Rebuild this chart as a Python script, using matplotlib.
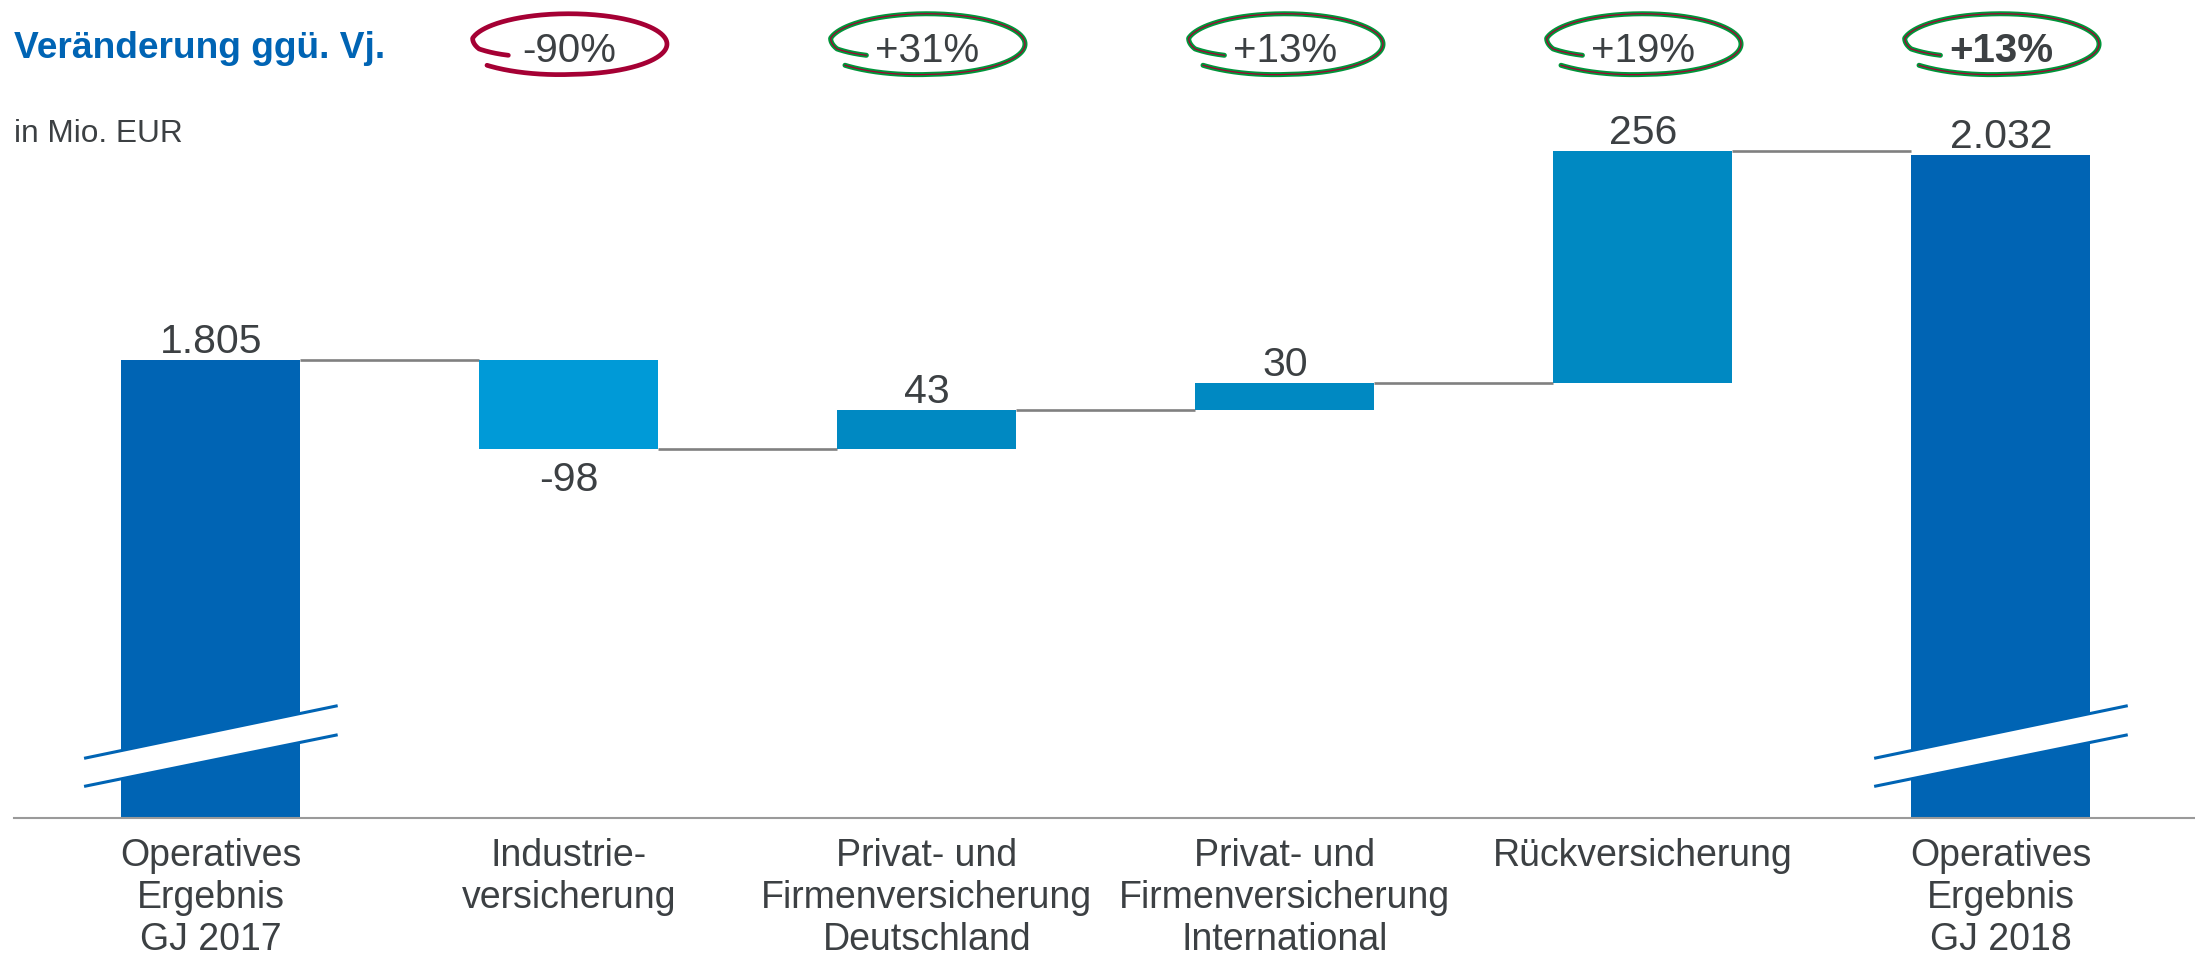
import numpy as np
import matplotlib
matplotlib.use('Agg')
import matplotlib.pyplot as plt
from matplotlib.transforms import blended_transform_factory

plt.rcParams['font.family'] = ['Liberation Sans', 'DejaVu Sans']

# Daten
categories = ['Operatives\nErgebnis\nGJ 2017', 'Industrie-\nversicherung',
              'Privat- und\nFirmenversicherung\nDeutschland',
              'Privat- und\nFirmenversicherung\nInternational',
              'Rückversicherung', 'Operatives\nErgebnis\nGJ 2018']
start_value = 1805
deltas = [-98, 43, 30, 256]
end_value = 2032
changes = ['-90%', '+31%', '+13%', '+19%', '+13%']   # Veränderung ggü. Vj. (Balken 2-6)

# Farben
dark_blue = '#0064B4'
light_blue = '#009AD7'
mid_blue = '#0089C2'
text_col = '#3C4043'
red = '#A50034'
green = '#00953A'

def fmt(v):
    return f'{v:,}'.replace(',', '.')

# Balkenpositionen berechnen
bottoms = [0]
heights = [start_value]
level = start_value
for d in deltas:
    bottoms.append(min(level, level + d))
    heights.append(abs(d))
    level += d
bottoms.append(0)
heights.append(end_value)
colors = [dark_blue] + [light_blue if d < 0 else mid_blue for d in deltas] + [dark_blue]
labels = [fmt(start_value)] + [fmt(d) for d in deltas] + [fmt(end_value)]
x = np.arange(len(categories))

fig = plt.figure(figsize=(21.95, 9.62), dpi=100)
ax = fig.add_axes([0, 0.1486, 1, 0.8514])
ax.set_xlim(-0.589, 5.542)
ax.set_ylim(1299, 2204)

ax.bar(x, heights, bottom=bottoms, width=0.5, color=colors, zorder=2)

# Verbindungslinien
level = start_value
tops = [start_value]
for d in deltas:
    level += d
    tops.append(level)
for i in range(len(categories) - 1):
    ax.plot([i + 0.25, i + 0.75], [tops[i], tops[i]], color='#808080', lw=1.9,
            zorder=1, solid_capstyle='butt')

# Wertebeschriftung
for i in range(len(categories)):
    if i in (0, len(categories) - 1):
        y, off = heights[i], 13.5
    elif deltas[i - 1] < 0:
        y, off = bottoms[i], -22
    else:
        y, off = bottoms[i] + heights[i], 13.5
    ax.annotate(labels[i], (x[i], y), xytext=(0, off), textcoords='offset points',
                ha='center', va='center', fontsize=29.5, color=text_col, zorder=5)

# Achsenbruch
bt = blended_transform_factory(ax.transData, ax.transAxes)
for i in (0, len(categories) - 1):
    x0, x1 = i - 0.35, i + 0.35
    up = (0.0733, 0.1368)
    lo = (0.039, 0.1013)
    ax.fill([x0, x1, x1, x0], [up[0], up[1], lo[1], lo[0]], color='white',
            transform=bt, zorder=3, clip_on=False)
    ax.plot([x0, x1], up, color=dark_blue, lw=2.2, transform=bt, zorder=4, clip_on=False)
    ax.plot([x0, x1], lo, color=dark_blue, lw=2.2, transform=bt, zorder=4, clip_on=False)

# Ovale mit Veränderung
t = np.linspace(0, 1, 400)
theta = np.deg2rad(211 - 351 * t)
r = np.interp(t, [0, 0.06, 0.12, 0.85, 1.0], [0.72, 0.93, 1.0, 1.0, 1.09])
a, b = 0.274, 0.037
cy = 0.945
for i, ch in enumerate(changes, start=1):
    ox = i + a * r * np.cos(theta)
    oy = cy + b * r * np.sin(theta)
    if ch.startswith('-'):
        ax.plot(ox, oy, color=red, lw=3.4, transform=bt, clip_on=False,
                solid_capstyle='round')
    else:
        ax.plot(ox, oy, color=green, lw=3.6, transform=bt, clip_on=False,
                solid_capstyle='round')
        ax.plot(ox, oy, color=red, lw=0.9, transform=bt, clip_on=False)
    ax.text(i, cy - 0.007, ch, transform=bt, ha='center', va='center',
            fontsize=29, color=text_col,
            fontweight='bold' if i == len(categories) - 1 else 'normal')

fig.text(14 / 2195, 1 - 48 / 962, 'Veränderung ggü. Vj.', ha='left', va='center',
         fontsize=26.7, fontweight='bold', color=dark_blue)
fig.text(14 / 2195, 1 - 134 / 962, 'in Mio. EUR', ha='left', va='center',
         fontsize=22.8, color=text_col)

# Achsen
for s in ['top', 'right', 'left']:
    ax.spines[s].set_visible(False)
ax.spines['bottom'].set_bounds(-0.55, 5.542)
ax.spines['bottom'].set_color('#9A9A9A')
ax.spines['bottom'].set_linewidth(1.5)
ax.set_yticks([])
ax.set_xticks(x)
ax.set_xticklabels(categories, fontsize=27, color=text_col, linespacing=1.2)
ax.tick_params(axis='x', length=0, pad=14)

fig.savefig('out.png', dpi=100)
